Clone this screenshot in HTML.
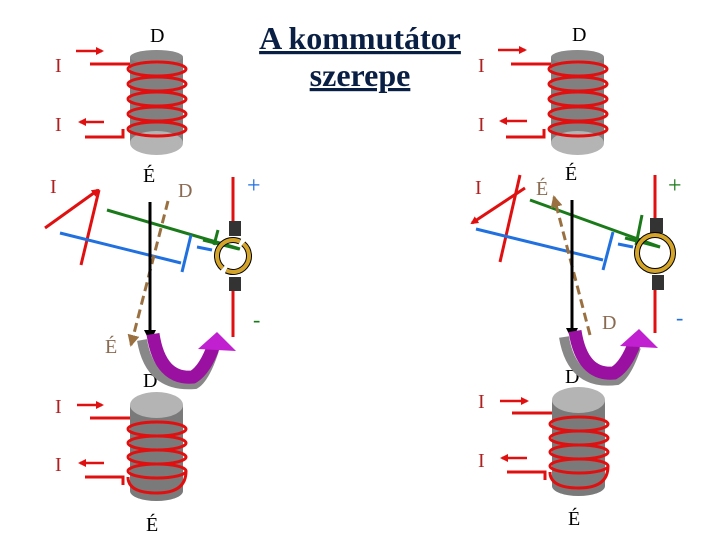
<!DOCTYPE html>
<html><head><meta charset="utf-8"><style>
html,body{margin:0;padding:0;background:#fff;width:720px;height:540px;overflow:hidden}
svg{display:block}
text{font-family:"Liberation Serif",serif}
</style></head><body>
<svg width="720" height="540" viewBox="0 0 720 540" xmlns="http://www.w3.org/2000/svg">
<defs>
<marker id="ar" markerWidth="8" markerHeight="8" refX="6" refY="4" orient="auto" markerUnits="userSpaceOnUse"><path d="M0,0 L8,4 L0,8 z" fill="#e01010"/></marker>
<marker id="ak" markerWidth="12" markerHeight="12" refX="10" refY="6" orient="auto" markerUnits="userSpaceOnUse"><path d="M0,0 L12,6 L0,12 z" fill="#000"/></marker>
<marker id="ab" markerWidth="12" markerHeight="12" refX="10" refY="6" orient="auto" markerUnits="userSpaceOnUse"><path d="M0,0 L12,6 L0,12 z" fill="#9a7040"/></marker>
<g id="coilTop">
<rect x="0" y="0" width="53" height="86" fill="#808080"/>
<ellipse cx="26.5" cy="0" rx="26.5" ry="7" fill="#8a8a8a"/>
<ellipse cx="26.5" cy="86" rx="26.5" ry="12" fill="#b4b4b4"/>
<g fill="none" stroke="#e01010" stroke-width="3">
<ellipse cx="27" cy="12" rx="29" ry="7"/><ellipse cx="27" cy="27" rx="29" ry="7"/><ellipse cx="27" cy="42" rx="29" ry="7"/><ellipse cx="27" cy="57" rx="29" ry="7"/><ellipse cx="27" cy="72" rx="29" ry="7"/>
<path d="M-40,7 H0"/><path d="M-45,80 H-7 V72"/>
</g>
</g>
<g id="coilBot">
<rect x="0" y="0" width="53" height="86" fill="#7a7a7a"/>
<ellipse cx="26.5" cy="86" rx="26.5" ry="10" fill="#7a7a7a"/>
<ellipse cx="26.5" cy="0" rx="26.5" ry="13" fill="#b4b4b4"/>
<g fill="none" stroke="#e01010" stroke-width="3">
<ellipse cx="27" cy="24" rx="29" ry="7"/><ellipse cx="27" cy="38" rx="29" ry="7"/><ellipse cx="27" cy="52" rx="29" ry="7"/><ellipse cx="27" cy="66" rx="29" ry="7"/><path d="M-2,72 Q-2,88 27,88 Q56,88 56,66"/>
<path d="M-40,13 H0"/><path d="M-45,72 H-7 V80"/>
</g>
</g>
</defs>

<!-- title -->
<text x="360" y="49" font-size="32" font-weight="bold" fill="#0a1f44" text-anchor="middle" text-decoration="underline">A kommutátor</text>
<text x="360" y="86" font-size="32" font-weight="bold" fill="#0a1f44" text-anchor="middle" text-decoration="underline">szerepe</text>

<!-- coils -->
<use href="#coilTop" x="130" y="57"/>
<use href="#coilTop" x="551" y="57"/>
<use href="#coilBot" x="130" y="405"/>
<use href="#coilBot" x="552" y="400"/>

<g stroke="#e01010" stroke-width="2.5" fill="none">
<path d="M76,51 H102" marker-end="url(#ar)"/>
<path d="M104,122 H80" marker-end="url(#ar)"/>
<path d="M498,50 H525" marker-end="url(#ar)"/>
<path d="M527,121 H501" marker-end="url(#ar)"/>
<path d="M77,405 H102" marker-end="url(#ar)"/>
<path d="M104,463 H80" marker-end="url(#ar)"/>
<path d="M500,401 H527" marker-end="url(#ar)"/>
<path d="M527,458 H502" marker-end="url(#ar)"/>
</g>

<g font-size="20" fill="#b02020">
<text x="55" y="72">I</text><text x="55" y="131">I</text><text x="50" y="193">I</text>
<text x="478" y="72">I</text><text x="478" y="131">I</text><text x="475" y="194">I</text>
<text x="55" y="413">I</text><text x="55" y="471">I</text>
<text x="478" y="408">I</text><text x="478" y="467">I</text>
</g>
<g font-size="20" fill="#000">
<text x="150" y="42">D</text><text x="572" y="41">D</text>
<text x="143" y="182">É</text><text x="565" y="180">É</text>
<text x="143" y="387">D</text><text x="565" y="383">D</text>
<text x="146" y="531">É</text><text x="568" y="525">É</text>
</g>
<g font-size="20" fill="#8a6a50">
<text x="178" y="197">D</text><text x="105" y="353">É</text>
<text x="536" y="195">É</text><text x="602" y="329">D</text>
</g>

<!-- LEFT rotor -->
<g stroke-width="3" fill="none">
<path d="M45,228 L98,190" stroke="#e01010" marker-end="url(#ar)"/>
<path d="M81,265 L99,190" stroke="#e01010"/>
<path d="M107,210 L240,249" stroke="#1a7a1a"/>
<path d="M203,240 L239,249 M218,230 L214,245" stroke="#1a7a1a"/>
<path d="M60,233 L181,263" stroke="#2070e0"/>
<path d="M191,235 L182,272" stroke="#2070e0"/>
<path d="M197,247 L212,250" stroke="#2070e0"/>
<path d="M233,177 V222 M233,290 V337" stroke="#e01010"/>
<path d="M168,201 L131,345" stroke="#9a7040" stroke-dasharray="9,5" marker-end="url(#ab)"/>
<path d="M150,202 V340" stroke="#000" marker-end="url(#ak)"/>
</g>
<rect x="229" y="221" width="12" height="15" fill="#333"/>
<rect x="229" y="277" width="12" height="14" fill="#333"/>
<circle cx="233" cy="256" r="16" fill="none" stroke="#000" stroke-width="6" stroke-dasharray="46,4.3" transform="rotate(-50 233 256)"/>
<circle cx="233" cy="256" r="16" fill="none" stroke="#d4a42a" stroke-width="4" stroke-dasharray="46,4.3" transform="rotate(-50 233 256)"/>
<text x="247" y="193" font-size="24" fill="#2070e0" font-family="Liberation Sans,sans-serif">+</text>
<text x="253" y="327" font-size="22" fill="#1a7a1a" font-family="Liberation Sans,sans-serif">-</text>
<!-- purple arrow left -->
<path d="M142,340 Q150,388 195,384 Q205,378 214,350" fill="none" stroke="#888" stroke-width="10"/>
<path d="M153,334 Q160,380 193,377 Q205,370 214,345" fill="none" stroke="#9a10a0" stroke-width="13"/>
<path d="M198,349 L217,332 L236,351 z" fill="#c020d0"/>

<!-- RIGHT rotor -->
<g stroke-width="3" fill="none">
<path d="M525,188 L472,223" stroke="#e01010" marker-end="url(#ar)"/>
<path d="M520,175 L500,262" stroke="#e01010"/>
<path d="M530,200 L660,247" stroke="#1a7a1a"/>
<path d="M625,238 L660,247 M642,215 L636,245" stroke="#1a7a1a"/>
<path d="M476,229 L603,260" stroke="#2070e0"/>
<path d="M613,232 L603,270" stroke="#2070e0"/>
<path d="M618,244 L633,247" stroke="#2070e0"/>
<path d="M655,175 V218 M655,290 V333" stroke="#e01010"/>
<path d="M590,335 L554,197" stroke="#9a7040" stroke-dasharray="9,5" marker-end="url(#ab)"/>
<path d="M572,200 V338" stroke="#000" marker-end="url(#ak)"/>
</g>
<rect x="650" y="218" width="13" height="15" fill="#333"/>
<rect x="652" y="275" width="12" height="15" fill="#333"/>
<circle cx="655" cy="253" r="18" fill="none" stroke="#000" stroke-width="6"/>
<circle cx="655" cy="253" r="18" fill="none" stroke="#d4a42a" stroke-width="4"/>
<text x="668" y="193" font-size="24" fill="#1a7a1a" font-family="Liberation Sans,sans-serif">+</text>
<text x="676" y="325" font-size="22" fill="#2070e0" font-family="Liberation Sans,sans-serif">-</text>
<path d="M564,337 Q572,386 617,380 Q627,374 636,347" fill="none" stroke="#888" stroke-width="10"/>
<path d="M575,331 Q582,376 614,373 Q626,366 635,342" fill="none" stroke="#9a10a0" stroke-width="13"/>
<path d="M620,346 L639,329 L658,348 z" fill="#c020d0"/>
</svg>
</body></html>
